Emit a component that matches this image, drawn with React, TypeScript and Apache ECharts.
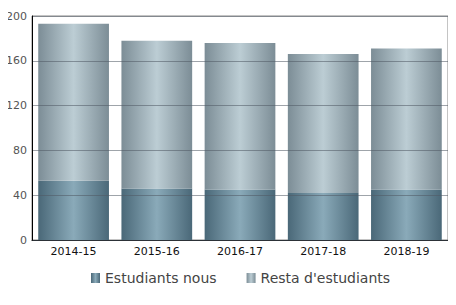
import React, { useEffect, useRef } from "react";
import * as echarts from "echarts";

const categories = ["2014-15", "2015-16", "2016-17", "2017-18", "2018-19"];
const nous = [53, 46, 45, 42, 45];
const resta = [140, 132, 131, 124, 126];
const yTicks = [0, 40, 80, 120, 160, 200];

const grad = (edge: string, mid: string) =>
  new echarts.graphic.LinearGradient(0, 0, 1, 0, [
    { offset: 0, color: edge },
    { offset: 0.5, color: mid },
    { offset: 1, color: edge },
  ]);

export default function App() {
  const ref = useRef<HTMLDivElement>(null);
  useEffect(() => {
    if (!ref.current) return;
    const chart = echarts.init(ref.current, null, { renderer: "svg" });
    chart.setOption({
      animation: false,
      textStyle: { fontFamily: "DejaVu Sans" },
      grid: {
        left: 32,
        right: 8,
        top: 16,
        bottom: 65,
        show: true,
        borderColor: "#888",
        borderWidth: 1,
      },
      legend: {
        top: 266,
        left: 86,
        icon: "rect",
        itemWidth: 9,
        itemHeight: 10,
        itemGap: 30,
        textStyle: { fontSize: 14, color: "#444", fontFamily: "DejaVu Sans" },
        data: ["Estudiants nous", "Resta d'estudiants"],
      },
      xAxis: {
        type: "category",
        data: categories,
        axisLine: { lineStyle: { color: "#000" } },
        axisTick: { show: false },
        axisLabel: { color: "#111", fontSize: 11, margin: 6 },
      },
      yAxis: {
        type: "value",
        min: yTicks[0],
        max: yTicks[yTicks.length - 1],
        interval: 40,
        z: 5,
        axisLine: { show: true, lineStyle: { color: "#000" } },
        axisTick: { show: false },
        axisLabel: { color: "#555", fontSize: 11, margin: 5 },
        splitLine: { lineStyle: { color: "rgba(80,90,100,0.55)", width: 1 } },
      },
      series: [
        {
          name: "Estudiants nous",
          type: "bar",
          stack: "a",
          data: nous,
          barCategoryGap: "15%",
          itemStyle: { color: grad("#4a6878", "#8aaab9") },
        },
        {
          name: "Resta d'estudiants",
          type: "bar",
          stack: "a",
          data: resta,
          barCategoryGap: "15%",
          itemStyle: { color: grad("#7c8d96", "#bccdd4") },
        },
      ],
    });
    return () => chart.dispose();
  }, []);
  return <div ref={ref} style={{ width: 456, height: 305, margin: -8 }} />;
}
